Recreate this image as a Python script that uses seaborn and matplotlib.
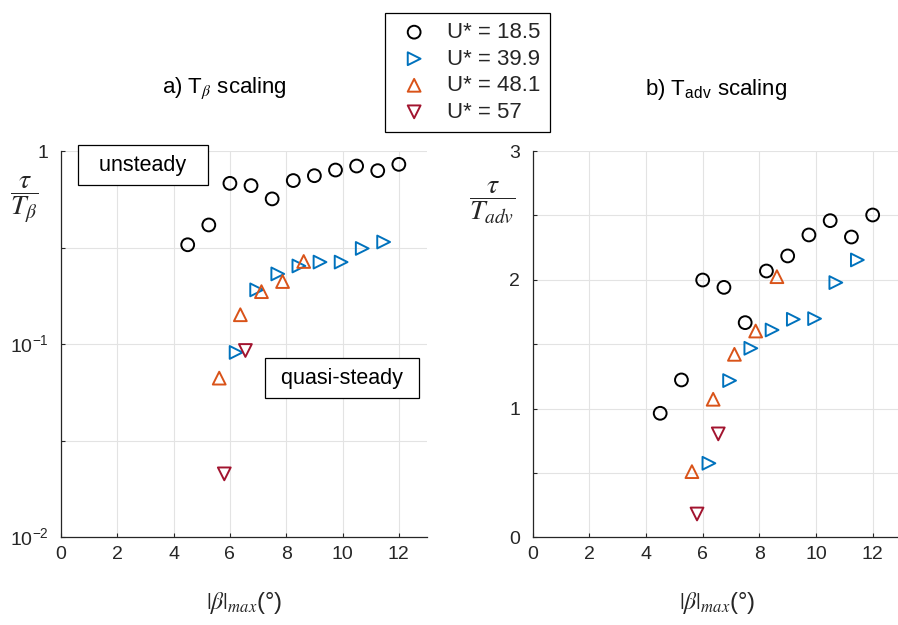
import numpy as np
import pandas as pd
import seaborn as sns
import matplotlib.pyplot as plt
from matplotlib.ticker import FixedLocator, FixedFormatter

# |beta|_max (deg) for each U* series
beta_185 = [4.5, 5.25, 6.0, 6.75, 7.5, 8.25, 9.0, 9.75, 10.5, 11.25, 12.0]
beta_399 = [6.22, 6.95, 7.7, 8.45, 9.2, 9.95, 10.7, 11.46]
beta_481 = [5.62, 6.37, 7.12, 7.87, 8.62]
beta_57 = [5.8, 6.55]

# tau / T_beta
tb_185 = [0.327, 0.414, 0.680, 0.662, 0.565, 0.703, 0.745, 0.797, 0.836, 0.791, 0.853]
tb_399 = [0.0906, 0.191, 0.231, 0.254, 0.266, 0.266, 0.313, 0.338]
tb_481 = [0.0667, 0.142, 0.187, 0.211, 0.268]
tb_57 = [0.0213, 0.0927]

# tau / T_adv
ta_185 = [0.963, 1.222, 1.998, 1.941, 1.667, 2.068, 2.185, 2.348, 2.459, 2.332, 2.503]
ta_399 = [0.575, 1.217, 1.468, 1.610, 1.693, 1.698, 1.978, 2.154]
ta_481 = [0.510, 1.072, 1.421, 1.602, 2.024]
ta_57 = [0.181, 0.803]

series_labels = ['U* = 18.5', 'U* = 39.9', 'U* = 48.1', 'U* = 57']
colors = ['black', '#0072BD', '#D95319', '#A2142F']
markers = ['o', '>', '^', 'v']

xs = [beta_185, beta_399, beta_481, beta_57]
ys_beta = [tb_185, tb_399, tb_481, tb_57]
ys_adv = [ta_185, ta_399, ta_481, ta_57]

sns.set_style('ticks')
plt.rcParams['font.family'] = ['Liberation Sans', 'DejaVu Sans']
plt.rcParams['mathtext.fontset'] = 'stix'
plt.rcParams['xtick.direction'] = 'in'
plt.rcParams['ytick.direction'] = 'in'

fig = plt.figure(figsize=(8.98, 6.25), dpi=100)
ax1 = fig.add_axes([61 / 898, 1 - 537.3 / 625, 366 / 898, 386.3 / 625])
ax2 = fig.add_axes([532.7 / 898, 1 - 537.3 / 625, 368.3 / 898, 386.3 / 625])

txt_col = '#262626'

for ax, ys in [(ax1, ys_beta), (ax2, ys_adv)]:
    for x, y, lab, c, m in zip(xs, ys, series_labels, colors, markers):
        sns.scatterplot(x=x, y=y, ax=ax, marker=m, s=85, color=c,
                        facecolor='none', edgecolor=c, linewidth=1.4,
                        label=lab, zorder=3, legend=False)
    ax.set_xlim(0, 13)
    ax.set_xticks([0, 2, 4, 6, 8, 10, 12])
    ax.grid(True, color='#e3e3e3', linewidth=0.8, zorder=0)
    ax.set_axisbelow(True)
    sns.despine(ax=ax)
    for sp in ['left', 'bottom']:
        ax.spines[sp].set_color(txt_col)
        ax.spines[sp].set_linewidth(0.9)
    ax.tick_params(labelsize=14, colors=txt_col, length=3, width=0.8)
    ax.tick_params(axis='x', pad=6)
    ax.tick_params(axis='y', pad=9)
    ax.set_xlabel(r'$|\beta|_{max}$(°)', fontsize=17, color=txt_col, labelpad=20)

# left panel: log scale
ax1.set_yscale('log')
ax1.set_ylim(0.01, 1)
ax1.yaxis.set_major_locator(FixedLocator([0.01, 10 ** -1.5, 0.1, 10 ** -0.5, 1]))
ax1.yaxis.set_major_formatter(FixedFormatter([r'10$^{\mathregular{-2}}$', '',
                                              r'10$^{\mathregular{-1}}$', '', '1']))
ax1.yaxis.set_minor_locator(FixedLocator([]))
ax1.set_ylabel(r'$\dfrac{\tau}{T_\beta}$', fontsize=20, rotation=0, color=txt_col,
               ha='center', va='center')
ax1.yaxis.set_label_coords(-0.101, 0.873)

# right panel: linear
ax2.set_ylim(0, 3)
ax2.yaxis.set_major_locator(FixedLocator([0, 0.5, 1, 1.5, 2, 2.5, 3]))
ax2.yaxis.set_major_formatter(FixedFormatter(['0', '', '1', '', '2', '', '3']))
ax2.set_ylabel(r'$\dfrac{\tau}{T_{adv}}$', fontsize=20, rotation=0, color=txt_col,
               ha='center', va='center')
ax2.yaxis.set_label_coords(-0.11, 0.865)

box = dict(boxstyle='square,pad=0.45', facecolor='white', edgecolor='black', linewidth=0.9)
ax1.text(0.224, 0.963, '  unsteady  ', transform=ax1.transAxes, ha='center', va='center',
         fontsize=15.5, color='black', bbox=box, zorder=5)
ax1.text(0.768, 0.412, ' quasi-steady ', transform=ax1.transAxes, ha='center', va='center',
         fontsize=15.5, color='black', bbox=box, zorder=5)

fig.text(224 / 898, 1 - 88 / 625, r'a) T$_\beta$ scaling', ha='center', va='center',
         fontsize=16, color='black')
fig.text(716 / 898, 1 - 89 / 625, r'b) T$_{\mathregular{adv}}$ scaling', ha='center', va='center',
         fontsize=16, color='black')

handles, labels = ax1.get_legend_handles_labels()
leg = fig.legend(handles, labels, loc='upper center', bbox_to_anchor=(467.5 / 898, 1 - 2 / 625),
                 fontsize=16, frameon=True, fancybox=False, framealpha=1,
                 edgecolor='black', borderpad=0.4, labelspacing=0.25, handletextpad=0.6,
                 handlelength=1.8)
leg.get_frame().set_linewidth(0.9)

fig.savefig('out.png', dpi=100)
